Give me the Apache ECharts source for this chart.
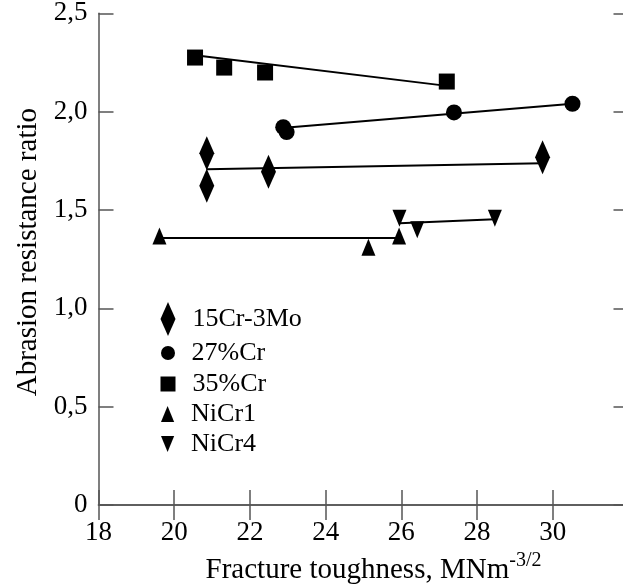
<!DOCTYPE html>
<html>
<head>
<meta charset="utf-8">
<script src="https://cdn.jsdelivr.net/npm/echarts@6/dist/echarts.min.js"></script>
<style>
  html, body { margin: 0; padding: 0; background: #fff; }
  #chart { width: 623px; height: 585px; }
</style>
</head>
<body>
<div id="chart"></div>
<script>
// Measured points: fracture toughness (MNm^-3/2) vs abrasion resistance ratio
const cr15Mo3_x = [20.86, 20.86, 22.49, 29.73];
const cr15Mo3_y = [1.789, 1.623, 1.695, 1.768];
const cr27_x = [22.88, 22.97, 27.39, 30.52];
const cr27_y = [1.921, 1.896, 1.996, 2.040];
const cr35_x = [20.55, 21.32, 22.40, 27.20];
const cr35_y = [2.275, 2.224, 2.199, 2.153];
const niCr1_x = [19.61, 25.13, 25.94];
const niCr1_y = [1.368, 1.311, 1.368];
const niCr4_x = [25.95, 26.42, 28.47];
const niCr4_y = [1.458, 1.399, 1.458];

// Trend line end points for each alloy
const fit15_x = [20.86, 29.73];
const fit15_y = [1.707, 1.738];
const fit27_x = [23.00, 30.52];
const fit27_y = [1.919, 2.040];
const fit35_x = [20.55, 27.20];
const fit35_y = [2.287, 2.131];
const fitNi1_x = [19.61, 25.94];
const fitNi1_y = [1.357, 1.357];
const fitNi4_x = [25.95, 28.47];
const fitNi4_y = [1.433, 1.453];

const names = ['15Cr-3Mo', '27%Cr', '35%Cr', 'NiCr1', 'NiCr4'];
const yTickLabels = ['0', '0,5', '1,0', '1,5', '2,0', '2,5'];

const FONT = "'Liberation Serif', 'Times New Roman', serif";
const AXIS_COLOR = '#555';
const DOWN_TRI = 'path://M0,0L14,0L7,17Z';
const UP_TRI = 'path://M7,0L14,17L0,17Z';
const DIAMOND = 'path://M7.5,0L15,17L7.5,34L0,17Z';

function zip(xs, ys) { return xs.map((x, i) => [x, ys[i]]); }

function pointSeries(name, xs, ys, symbol, size) {
  return {
    name: name, type: 'scatter', data: zip(xs, ys),
    symbol: symbol, symbolSize: size, z: 5,
    itemStyle: { color: '#000', opacity: 1 }, emphasis: { disabled: true }
  };
}
function fitSeries(xs, ys) {
  return {
    type: 'line', data: zip(xs, ys), symbol: 'none', z: 3,
    lineStyle: { color: '#000', width: 2 }, silent: true
  };
}

// Legend rows (icon box size per marker shape)
const legendSpec = [
  { name: names[0], top: 302, w: 15, h: 34 },
  { name: names[1], top: 340, w: 14, h: 14 },
  { name: names[2], top: 371, w: 15, h: 15 },
  { name: names[3], top: 401, w: 14, h: 16 },
  { name: names[4], top: 431, w: 14, h: 16 }
];

const chart = echarts.init(document.getElementById('chart'), null, { renderer: 'canvas' });
chart.setOption({
  animation: false,
  backgroundColor: '#fff',
  textStyle: { fontFamily: FONT },
  grid: { left: 98.5, top: 13.3, width: 530, bottom: 80, containLabel: false, outerBoundsMode: 'none' },
  legend: legendSpec.map(l => ({
    data: [l.name], orient: 'vertical', left: 168 - l.w / 2, top: l.top,
    itemWidth: l.w, itemHeight: l.h, padding: 0, selectedMode: false,
    itemStyle: { opacity: 1 },
    textStyle: { fontFamily: FONT, fontSize: 26, color: '#000', padding: [0, 0, 0, 12 - (15 - l.w) / 2] }
  })),
  xAxis: [{
    type: 'value', min: 18, max: 32, interval: 2, position: 'bottom',
    name: '{n|Fracture toughness, MNm}{s|-3/2}', nameLocation: 'middle', nameGap: 40,
    nameTextStyle: {
      padding: [0, 0, 0, 20],
      rich: {
        n: { fontFamily: FONT, fontSize: 29, color: '#000', lineHeight: 38 },
        s: { fontFamily: FONT, fontSize: 20, color: '#000', verticalAlign: 'top', lineHeight: 20 }
      }
    },
    axisLine: { lineStyle: { color: AXIS_COLOR, width: 1.5 } },
    axisTick: { inside: true, length: 15, lineStyle: { color: AXIS_COLOR, width: 1.5 } },
    axisLabel: { fontFamily: FONT, fontSize: 27, color: '#000', margin: 14, showMaxLabel: false },
    splitLine: { show: false }
  }, {
    type: 'value', min: 18, max: 32, interval: 2, position: 'top',
    axisLine: { lineStyle: { color: AXIS_COLOR, width: 1.5 } },
    axisTick: { inside: true, length: 15, lineStyle: { color: AXIS_COLOR, width: 1.5 } },
    axisLabel: { show: false }, splitLine: { show: false }
  }],
  yAxis: [{
    type: 'value', min: 0, max: 2.5, interval: 0.5, position: 'left',
    name: 'Abrasion resistance ratio', nameLocation: 'middle', nameGap: 55,
    nameTextStyle: { fontFamily: FONT, fontSize: 29, color: '#000', padding: [0, 0, 0, 14] },
    axisLine: { lineStyle: { color: AXIS_COLOR, width: 1.5 } },
    axisTick: { inside: true, length: 15, lineStyle: { color: AXIS_COLOR, width: 1.5 } },
    axisLabel: {
      fontFamily: FONT, fontSize: 27, color: '#000', margin: 11,
      formatter: v => yTickLabels[Math.round(v / 0.5)]
    },
    splitLine: { show: false }
  }, {
    type: 'value', min: 0, max: 2.5, interval: 0.5, position: 'right',
    axisLine: { lineStyle: { color: AXIS_COLOR, width: 1.5 } },
    axisTick: { inside: true, length: 15, lineStyle: { color: AXIS_COLOR, width: 1.5 } },
    axisLabel: { show: false }, splitLine: { show: false }
  }],
  series: [
    fitSeries(fit15_x, fit15_y),
    fitSeries(fit27_x, fit27_y),
    fitSeries(fit35_x, fit35_y),
    fitSeries(fitNi1_x, fitNi1_y),
    fitSeries(fitNi4_x, fitNi4_y),
    pointSeries(names[0], cr15Mo3_x, cr15Mo3_y, DIAMOND, [15, 34]),
    pointSeries(names[1], cr27_x, cr27_y, 'circle', 16),
    pointSeries(names[2], cr35_x, cr35_y, 'rect', 16),
    pointSeries(names[3], niCr1_x, niCr1_y, UP_TRI, [14, 17]),
    pointSeries(names[4], niCr4_x, niCr4_y, DOWN_TRI, [14, 17])
  ]
});
</script>
</body>
</html>
